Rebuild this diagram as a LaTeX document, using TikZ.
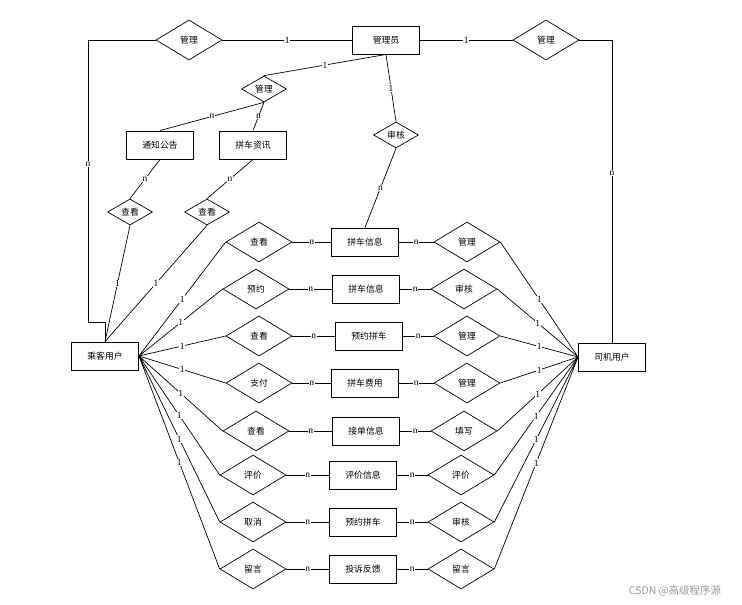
\documentclass[tikz,border=0pt]{standalone}
\usepackage{fontspec}
\setmainfont{Liberation Serif}
\newfontfamily\cjk{Noto Sans CJK SC}
\usetikzlibrary{shapes.geometric}
\begin{document}
\begin{tikzpicture}[x=1pt,y=-1pt,line width=0.7pt,
  ent/.style={draw,line width=0.9pt,minimum width=67pt,minimum height=28pt,inner sep=0pt,font=\cjk\fontsize{8.8}{9}\selectfont},
  rel/.style={draw,diamond,shape aspect=1.6,minimum width=66pt,minimum height=40pt,inner sep=0pt,font=\cjk\fontsize{8.8}{9}\selectfont},
  srel/.style={rel,minimum width=45pt,minimum height=26pt},
  lab/.style={fill=white,inner sep=0.6pt,font=\fontsize{9.5}{9.5}\selectfont}]
	  \useasboundingbox (0,0) rectangle (742,605);

	  % top part
	  \node[ent] (adm) at (386,40) {管理员};
	  \node[rel] (lm) at (189,40) {管理};
	  \node[rel] (rm) at (546,40) {管理};
	  \node[srel] (mg) at (264,89) {管理};
	  \node[ent] (tz) at (160,145) {通知公告};
	  \node[ent] (zx) at (253,145) {拼车资讯};
	  \node[srel] (v1) at (130,212) {查看};
	  \node[srel] (v2) at (207,212) {查看};
	  \node[srel] (sh) at (396,135) {审核};
	  \node[ent] (p) at (105,356) {乘客用户};
	  \node[ent] (s) at (612,357) {司机用户};
	  \coordinate (lk) at (88,322);

	  % rows
	  \node[rel] (l1) at (259,242) {查看};
	  \node[ent] (e1) at (365,242) {拼车信息};
	  \node[rel] (r1) at (467,242) {管理};
	  \node[rel] (l2) at (256,289) {预约};
	  \node[ent] (e2) at (366,289) {拼车信息};
	  \node[rel] (r2) at (464,289) {审核};
	  \node[rel] (l3) at (259,336) {查看};
	  \node[ent] (e3) at (369,336) {预约拼车};
	  \node[rel] (r3) at (467,336) {管理};
	  \node[rel] (l4) at (259,383) {支付};
	  \node[ent] (e4) at (365,383) {拼车费用};
	  \node[rel] (r4) at (467,383) {管理};
	  \node[rel] (l5) at (256,431) {查看};
	  \node[ent] (e5) at (366,431) {接单信息};
	  \node[rel] (r5) at (464,431) {填写};
	  \node[rel] (l6) at (253,475) {评价};
	  \node[ent] (e6) at (363,475) {评价信息};
	  \node[rel] (r6) at (461,475) {评价};
	  \node[rel] (l7) at (253,522) {取消};
	  \node[ent] (e7) at (363,522) {预约拼车};
	  \node[rel] (r7) at (461,522) {审核};
	  \node[rel] (l8) at (253,569) {留言};
	  \node[ent] (e8) at (363,569) {投诉反馈};
	  \node[rel] (r8) at (461,569) {留言};

	  \node[font=\cjk\fontsize{10.5}{11}\selectfont,text=black!40] (wm) at (675,591) {CSDN @高级程序源};

	  \draw (lm.east) -- node[lab]{1} (adm.west);
	  \draw (adm.east) -- node[lab]{1} (rm.west);
	  \draw (lm.west) -| node[lab,pos=0.72]{n} (lk) -| (p.north);
	  \draw (rm.east) -| node[lab,pos=0.72]{n} (s.north);
	  \draw (adm.south) -- node[lab]{1} (mg.north);
	  \draw (mg.south) -- node[lab]{n} (tz.north);
	  \draw (mg.south) -- node[lab]{n} (zx.north);
	  \draw (tz.south) -- node[lab]{n} (v1.north);
	  \draw (zx.south) -- node[lab]{n} (v2.north);
	  \draw (v1.south) -- node[lab]{1} (p.north);
	  \draw (v2.south) -- node[lab]{1} (p.north);
	  \draw (adm.south) -- node[lab]{1} (sh.north);
	  \draw (sh.south) -- node[lab]{n} (e1.north);

	  \draw (p.east) -- node[lab]{1} (l1.west) (p.east) -- node[lab]{1} (l2.west);
	  \draw (p.east) -- node[lab]{1} (l3.west) (p.east) -- node[lab]{1} (l4.west);
	  \draw (p.east) -- node[lab]{1} (l5.west) (p.east) -- node[lab]{1} (l6.west);
	  \draw (p.east) -- node[lab]{1} (l7.west) (p.east) -- node[lab]{1} (l8.west);
	  \draw (l1) -- node[lab]{n} (e1) -- node[lab]{n} (r1) (l2) -- node[lab]{n} (e2) -- node[lab]{n} (r2);
	  \draw (l3) -- node[lab]{n} (e3) -- node[lab]{n} (r3) (l4) -- node[lab]{n} (e4) -- node[lab]{n} (r4);
	  \draw (l5) -- node[lab]{n} (e5) -- node[lab]{n} (r5) (l6) -- node[lab]{n} (e6) -- node[lab]{n} (r6);
	  \draw (l7) -- node[lab]{n} (e7) -- node[lab]{n} (r7) (l8) -- node[lab]{n} (e8) -- node[lab]{n} (r8);
	  \draw (r1.east) -- node[lab]{1} (s.west) (r2.east) -- node[lab]{1} (s.west);
	  \draw (r3.east) -- node[lab]{1} (s.west) (r4.east) -- node[lab]{1} (s.west);
	  \draw (r5.east) -- node[lab]{1} (s.west) (r6.east) -- node[lab]{1} (s.west);
	  \draw (r7.east) -- node[lab]{1} (s.west) (r8.east) -- node[lab]{1} (s.west);
	\end{tikzpicture}
\end{document}
